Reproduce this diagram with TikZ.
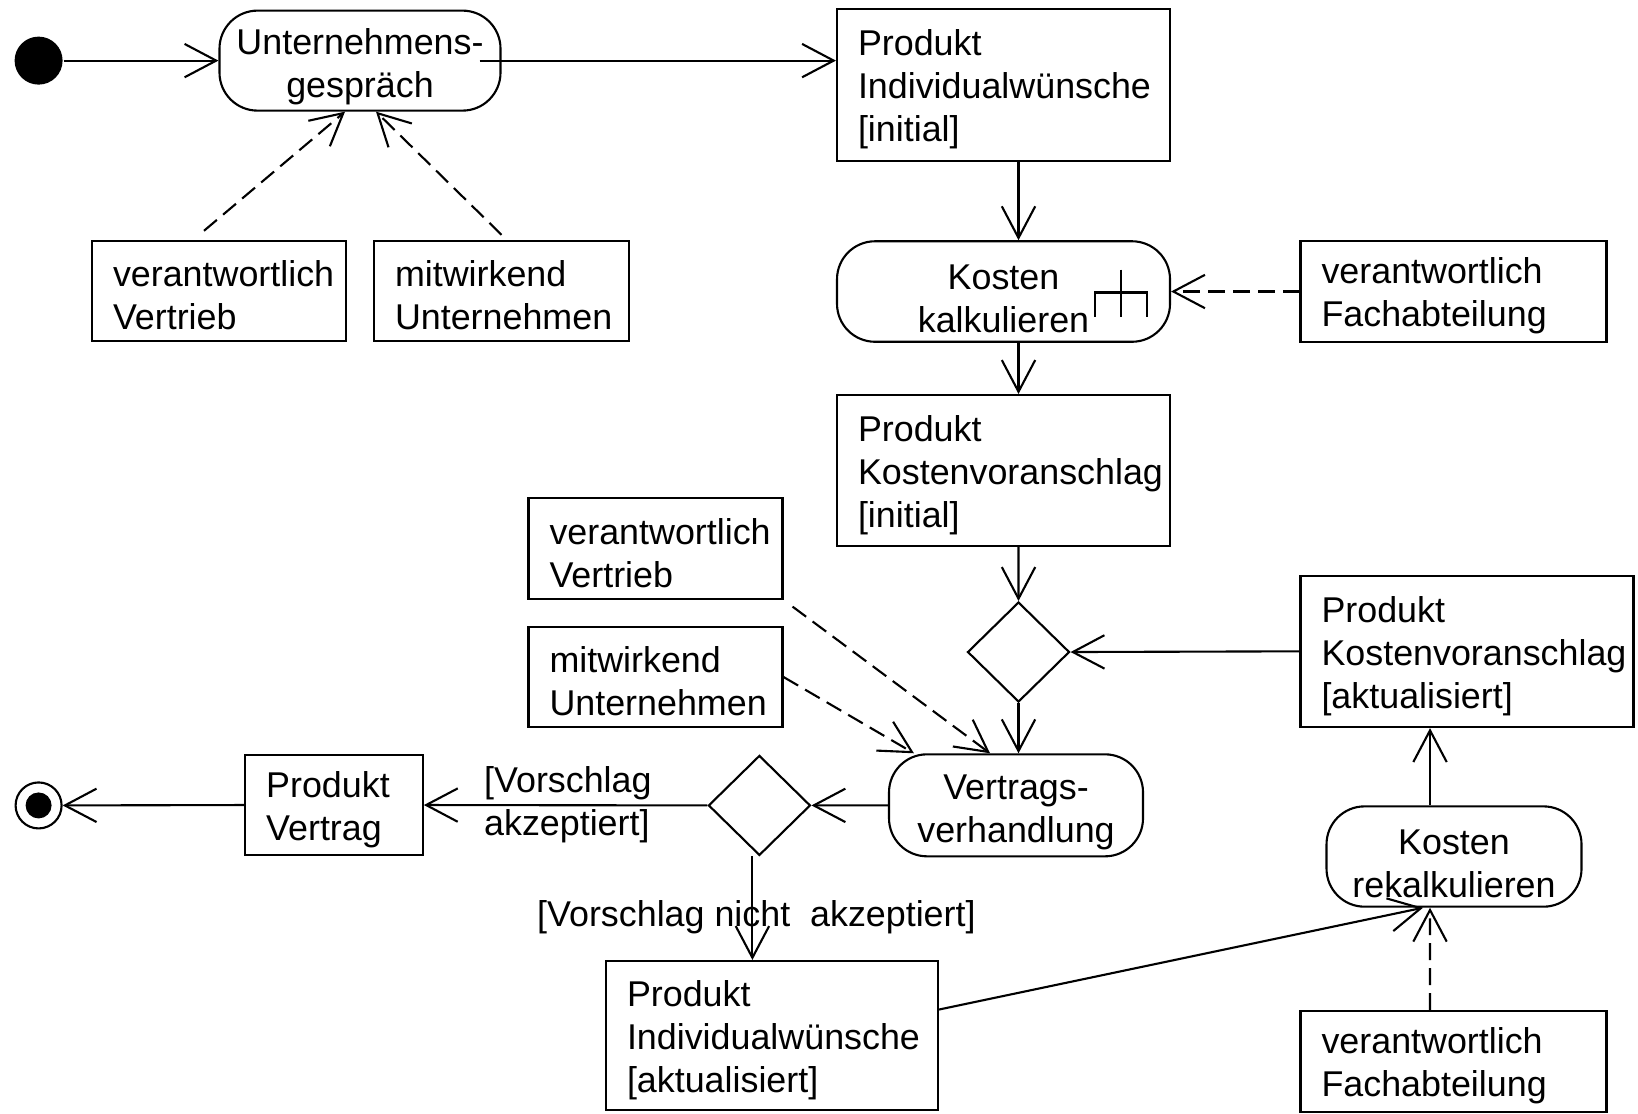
\documentclass[tikz,border=0pt]{standalone}
\usepackage{fontspec}
\setmainfont{Liberation Sans}
\usetikzlibrary{shapes.geometric,arrows.meta}
\hyphenpenalty=10000
\exhyphenpenalty=10000

\begin{document}
\begin{tikzpicture}[line width=0.6pt]
	\tikzset{every node/.style={font=\fontsize{10.2}{12.2}\selectfont}}
	\tikzset{txt/.style={execute at begin node={\rule{0pt}{#1}}}, txt/.default=10pt}
	\tikzset{obj/.style 2 args={draw, txt, align=left, inner xsep=0.21cm, inner ysep=0pt, text width=#1cm, minimum height=#2cm}}
	\tikzset{act/.style 2 args={draw, txt=11pt, rounded corners=0.38cm, align=center, inner xsep=0.1cm, inner ysep=0pt, text width=#1cm, minimum height=#2cm}}
	\tikzset{dec/.style={draw, diamond, minimum width=1.02cm, minimum height=1.0cm, inner sep=0pt}}
	\tikzset{flow/.style={-{Straight Barb[length=9pt,width=9.5pt]}}}
	\tikzset{dep/.style={flow, dash pattern=on 4.8pt off 2.3pt}}
	\tikzset{guard/.style={txt, align=left, inner sep=0pt}}
	\useasboundingbox (0,0) rectangle (16.38,-11.13);

	% start and end
	\node[circle, fill, inner sep=0pt, minimum size=0.48cm] (start) at (0.386,-0.606) {};
	\node[circle, draw, inner sep=0pt, minimum size=0.46cm] (final) at (0.386,-8.054) {};
	\node[circle, fill, inner sep=0pt, minimum size=0.26cm] (finaldot) at (final) {};

	% actions
	\node[act={2.61}{1.0}] (U) at (3.60,-0.606) {Unternehmens-\\gespräch};
	\node[act={3.13}{1.005}] (KK) at (10.035,-2.915) {Kosten\\kalkulieren};
	\node[act={2.34}{1.02}] (VV) at (10.16,-8.053) {Vertrags-\\verhandlung};
	\node[act={2.35}{1.003}] (KR) at (14.54,-8.565) {Kosten\\rekalkulieren};

	% objects
	\node[obj={2.91}{1.516}] (PIWi) at (10.035,-0.85) {Produkt\\Individualwünsche\\{[initial]}};
	\node[obj={2.91}{1.51}] (PKVi) at (10.035,-4.705) {Produkt\\Kostenvoranschlag\\{[initial]}};
	\node[obj={2.91}{1.515}] (PKVa) at (14.67,-6.513) {Produkt\\Kostenvoranschlag\\{[aktualisiert]}};
	\node[obj={2.90}{1.49}] (PIWa) at (7.72,-10.355) {Produkt\\Individualwünsche\\{[aktualisiert]}};
	\node[obj={1.356}{1.005}] (PV) at (3.34,-8.05) {Produkt\\Vertrag};

	% roles
	\node[obj={2.12}{1.0}] (VVert1) at (2.19,-2.908) {verantwortlich\\Vertrieb};
	\node[obj={2.13}{1.0}] (MU1) at (5.015,-2.908) {mitwirkend\\Unternehmen};
	\node[obj={2.64}{1.005}] (VF1) at (14.535,-2.915) {verantwortlich\\Fachabteilung};
	\node[obj={2.12}{1.005}] (VVert2) at (6.555,-5.483) {verantwortlich\\Vertrieb};
	\node[obj={2.12}{1.005}] (MU2) at (6.555,-6.77) {mitwirkend\\Unternehmen};
	\node[obj={2.64}{1.01}] (VF2) at (14.535,-10.615) {verantwortlich\\Fachabteilung};

	% decisions
	\node[dec] (M1) at (10.185,-6.52) {};
	\node[dec] (D2) at (7.594,-8.054) {};

	% rake
	\draw ([shift={(1.175,0.22)}]KK.center) -- ++(0,-0.47);
	\draw ([shift={(0.915,-0.25)}]KK.center) -- ++(0,0.24) -- ++(0.52,0) -- ++(0,-0.24);

	% control flow
	\draw[flow] (start) -- (U.west);
	\draw[flow] ([xshift=-0.22cm]U.east) -- (U.east -| PIWi.west);
	\draw[flow] ([xshift=0.15cm]PIWi.south) -- ([xshift=0.15cm]KK.north);
	\draw[flow] ([xshift=0.15cm]KK.south) -- ([xshift=0.15cm]PKVi.north);
	\draw[flow] ([xshift=0.15cm]PKVi.south) -- (M1.north);
	\draw[flow] (PKVa.west) -- (M1.east);
	\draw[flow] (M1.south) -- (M1.south |- VV.north);
	\draw[flow] (VV.west) -- (D2.east);
	\draw[flow] (D2.west) -- (PV.east)
		node[guard, pos=0.791, anchor=west] (g1) {[Vorschlag\\akzeptiert]};
	\draw[flow] (PV.west) -- (final.east);
	\draw[flow] ([xshift=-0.07cm]D2.south) -- ([xshift=-0.07cm]D2.south |- PIWa.north)
		node[guard, pos=0.545, xshift=0.04cm] (g2) {[Vorschlag nicht~~akzeptiert]};
	\draw[flow] ([yshift=0.26cm]PIWa.east) -- ([xshift=-0.31cm]KR.south);
	\draw[flow] ([xshift=-0.24cm]KR.north) -- ([xshift=-0.24cm]KR.north |- PKVa.south);

	% roles
	\draw[dep] ([shift={(-0.15,0.09)}]VVert1.north) -- ([xshift=-0.15cm]U.south);
	\draw[dep] ([yshift=0.05cm]MU1.north) -- ([xshift=0.16cm]U.south);
	\draw[dep] (VF1.west) -- (KK.east);
	\draw[dep] ([shift={(0.09,-0.07)}]VVert2.south east) -- ([xshift=-0.26cm]VV.north);
	\draw[dep] (MU2.east) -- ([xshift=0.26cm]VV.north west);
	\draw[dep] ([xshift=-0.235cm]VF2.north) -- ([xshift=-0.24cm]KR.south);
\end{tikzpicture}
\end{document}
